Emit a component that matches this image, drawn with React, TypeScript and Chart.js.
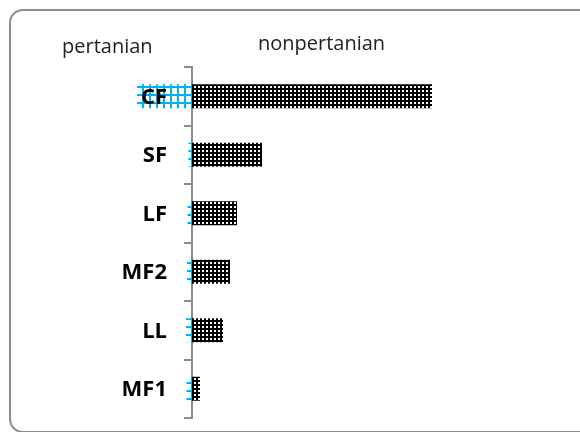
import React, { useEffect, useRef } from "react";
import { Chart, registerables } from "chart.js";

Chart.register(...registerables);

const categories = ["CF", "SF", "LF", "MF2", "LL", "MF1"];
const seriesNames = ["pertanian", "nonpertanian"];
const pertanian = [-11, -0.7, -0.9, -1.0, -1.2, -1.1];
const nonpertanian = [48, 14, 9, 7.6, 6.2, 1.6];

function makeDotPattern(): CanvasPattern | string {
  const c = document.createElement("canvas");
  c.width = 4;
  c.height = 4;
  const g = c.getContext("2d");
  if (!g) return "#000";
  g.fillStyle = "#000";
  g.fillRect(0, 0, 4, 4);
  g.fillStyle = "#fff";
  g.fillRect(2, 2, 2, 2);
  return g.createPattern(c, "repeat") || "#000";
}

function makeGridPattern(): CanvasPattern | string {
  const c = document.createElement("canvas");
  c.width = 7;
  c.height = 8;
  const g = c.getContext("2d");
  if (!g) return "#00b0f0";
  g.clearRect(0, 0, 7, 8);
  g.fillStyle = "#00b0f0";
  g.fillRect(0, 6, 7, 2);
  g.fillRect(2, 0, 2, 8);
  return g.createPattern(c, "repeat") || "#00b0f0";
}

const labelPlugin = {
  id: "customLabels",
  afterDatasetsDraw(chart: any) {
    const ctx = chart.ctx;
    const xs = chart.scales.x;
    const ys = chart.scales.y;
    const x0 = xs.getPixelForValue(0);
    ctx.save();
    ctx.font = "bold 22px 'Open Sans'";
    ctx.fillStyle = "#000";
    ctx.textAlign = "right";
    ctx.textBaseline = "middle";
    categories.forEach((c, i) => {
      ctx.fillText(c, x0 - 25, ys.getPixelForValue(i) + 1);
    });
    ctx.restore();
  },
  afterDraw(chart: any) {
    const ctx = chart.ctx;
    ctx.save();
    ctx.font = "20px 'Open Sans'";
    ctx.fillStyle = "#222";
    ctx.textAlign = "left";
    ctx.textBaseline = "alphabetic";
    ctx.fillText(chart.data.datasets[0].label, 62, 53);
    ctx.fillText(chart.data.datasets[1].label, 258, 50);
    ctx.restore();
  },
};

export default function App() {
  const ref = useRef<HTMLCanvasElement | null>(null);
  useEffect(() => {
    if (!ref.current) return;
    const chart = new Chart(ref.current, {
      type: "bar",
      data: {
        labels: categories,
        datasets: [
          {
            label: seriesNames[0],
            data: pertanian,
            backgroundColor: makeGridPattern() as any,
            borderWidth: 0,
          },
          {
            label: seriesNames[1],
            data: nonpertanian,
            backgroundColor: makeDotPattern() as any,
            borderWidth: 0,
          },
        ],
      },
      options: {
        indexAxis: "y",
        responsive: false,
        animation: false,
        barPercentage: 0.41,
        categoryPercentage: 1,
        layout: { padding: { left: 20, right: 20, top: 67, bottom: 14 } },
        plugins: {
          legend: { display: false },
          tooltip: { enabled: false },
        },
        scales: {
          x: {
            type: "linear",
            display: false,
            min: -34.4,
            max: 73.6,
            stacked: true,
          },
          y: {
            type: "category",
            stacked: true,
            position: { x: 0 } as any,
            offset: true,
            grid: {
              display: true,
              drawOnChartArea: false,
              drawTicks: true,
              tickLength: 7,
              color: "#8c8c8c",
              lineWidth: 2,
              offset: true,
            },
            border: { display: true, color: "#8c8c8c", width: 2 },
            ticks: { display: false },
          },
        },
      },
      plugins: [labelPlugin],
    } as any);
    return () => chart.destroy();
  }, []);
  return (
    <div
      style={{
        position: "fixed",
        left: 0,
        top: 0,
        width: 580,
        height: 432,
        overflow: "hidden",
        background: "#fff",
      }}
    >
      <div
        style={{
          position: "absolute",
          left: 9,
          top: 9,
          width: 600,
          height: 424,
          border: "2px solid #8c8c8c",
          borderRadius: 14,
          boxSizing: "border-box",
        }}
      />
      <canvas
        ref={ref}
        width={580}
        height={432}
        style={{ position: "absolute", left: 0, top: 0 }}
      />
    </div>
  );
}
